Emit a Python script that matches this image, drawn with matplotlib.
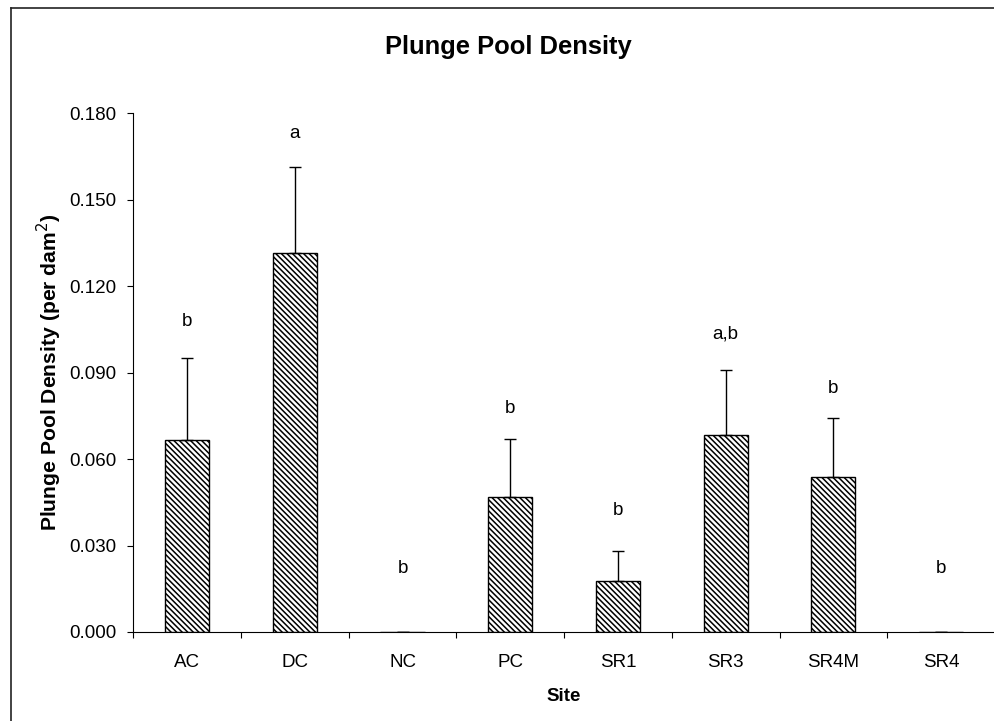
import matplotlib.pyplot as plt
from matplotlib.lines import Line2D

plt.rcParams['font.family'] = ['Liberation Sans', 'DejaVu Sans']
plt.rcParams['hatch.linewidth'] = 1.1
plt.rcParams['hatch.color'] = '#2a2a2a'

# data
sites = ["AC", "DC", "NC", "PC", "SR1", "SR3", "SR4M", "SR4"]
density = [0.0665, 0.1315, 0.0, 0.0470, 0.0178, 0.0684, 0.0537, 0.0]
upper_err = [0.0285, 0.0298, 0.0, 0.0201, 0.0103, 0.0226, 0.0206, 0.0]
groups = ["b", "a", "b", "b", "b", "a,b", "b", "b"]
group_y = [0.1076, 0.1730, 0.0222, 0.0776, 0.0423, 0.1034, 0.0846, 0.0222]
y_ticks = [0.0, 0.03, 0.06, 0.09, 0.12, 0.15, 0.18]

W, H = 994, 721
fig = plt.figure(figsize=(W / 100, H / 100), dpi=100)
# axes placed in pixel terms of the reference
left, right = 133.3, 133.3 + 8 * 107.7
top, bottom = 113.3, 632
ax = fig.add_axes([left / W, 1 - bottom / H, (right - left) / W, (bottom - top) / H])

x = list(range(len(sites)))
ax.bar(x, density, width=0.41, color="white", edgecolor="black",
       linewidth=1.0, hatch="\\" * 6, zorder=2)
ax.errorbar(x, density, yerr=[[0] * len(sites), upper_err], fmt="none",
            ecolor="black", elinewidth=1.0, capsize=4.5, capthick=1.0, zorder=3)

for xi, g, gy in zip(x, groups, group_y):
    ax.text(xi, gy, g, ha="center", va="center", fontsize=13.5)

ax.set_xlim(-0.5, len(sites) - 0.5)
ax.set_ylim(0, 0.18)
ax.set_yticks(y_ticks)
ax.set_yticklabels([f"{v:.3f}" for v in y_ticks], fontsize=13.5)
ax.tick_params(axis="y", direction="out", length=4.2, width=0.8, pad=8)

# labels at the centres, tick marks between categories
ax.set_xticks(x)
ax.set_xticklabels(sites, fontsize=13.5)
ax.set_xticks([i - 0.5 for i in range(len(sites) + 1)], minor=True)
ax.tick_params(axis="x", which="major", length=0, pad=16)
ax.tick_params(axis="x", which="minor", direction="out", length=4, width=0.8)

for s in ["top", "right"]:
    ax.spines[s].set_visible(False)
for s in ["left", "bottom"]:
    ax.spines[s].set_linewidth(0.8)

ax.set_xlabel("Site", fontsize=13.5, fontweight="bold", labelpad=12)
ax.set_ylabel("Plunge Pool Density (per dam$^{2}$)", fontsize=15.2,
              fontweight="bold", labelpad=4)
fig.text(508 / W, 1 - 47 / H, "Plunge Pool Density", ha="center", va="center",
         fontsize=18.4, fontweight="bold")

# outer chart border (cropped at right and bottom in the reference)
bx, by = 10.5 / W, 1 - 8 / H
fig.add_artist(Line2D([bx, bx], [0, by], color="#222222", lw=1.2,
                      transform=fig.transFigure))
fig.add_artist(Line2D([bx, 1], [by, by], color="#222222", lw=1.2,
                      transform=fig.transFigure))

fig.savefig("out.png", dpi=100)
